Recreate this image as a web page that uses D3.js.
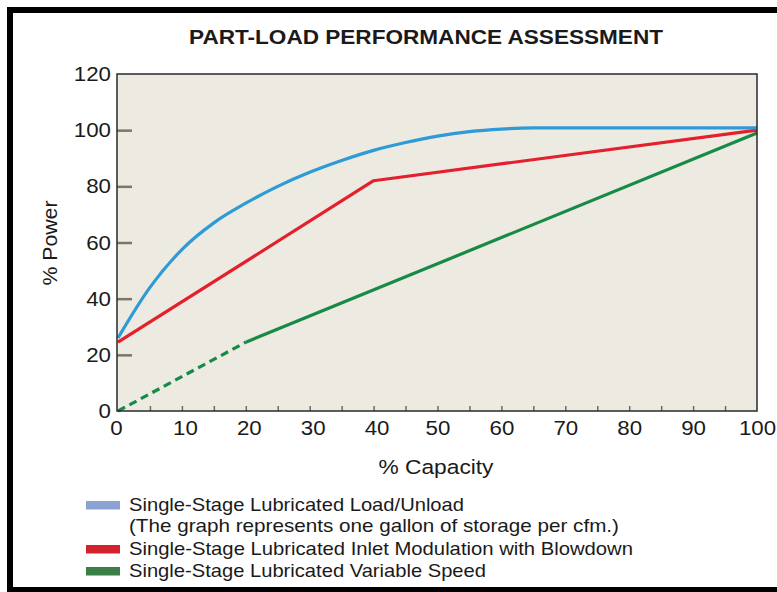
<!DOCTYPE html>
<html>
<head>
<meta charset="utf-8">
<script src="https://cdn.jsdelivr.net/npm/d3@7"></script>
<style>
  body { margin: 0; background: #fff; }
  svg { display: block; font-family: "Liberation Sans", Arial, Helvetica, sans-serif; }
</style>
</head>
<body>
<svg id="chart" width="777" height="592"></svg>
<script>
// data (% capacity, % power)
const loadUnload = [[0, 26], [5, 44], [10, 57.5], [15, 67], [20, 74], [25, 80], [30, 85], [35, 89.2],
    [40, 92.8], [45, 95.6], [50, 97.9], [55, 99.5], [60, 100.4], [65, 100.8], [70, 100.8], [100, 100.8]];
const inletModulation = [[0, 24.5], [40, 82], [100, 100]];
const variableSpeed = [[20, 24.5], [100, 99]];
const variableSpeedDashed = [[0, 0], [20, 24.5]];

const xTicks = [0, 10, 20, 30, 40, 50, 60, 70, 80, 90, 100];
const xMinorTicks = [5, 10, 15, 20, 25, 30, 35, 40, 45, 50, 55, 60, 65, 70, 75, 80, 85, 90, 95];
const yTicks = [0, 20, 40, 60, 80, 100, 120];
const yTickMarks = [20, 40, 60, 80, 100];

const legendItems = [
    { label: "Single-Stage Lubricated Load/Unload", color: "#8ba2d3", width: 335 },
    { label: "(The graph represents one gallon of storage per cfm.)", color: null, width: 490 },
    { label: "Single-Stage Lubricated Inlet Modulation with Blowdown", color: "#d3222e", width: 504 },
    { label: "Single-Stage Lubricated Variable Speed", color: "#3a7f45", width: 357 },
];

const translate = (x, y) => `translate(${x}, ${y})`;
const textColor = "#1a1a1a";
const digitWidth = 12.4; // the source type is a little wider than Arial

const svg = d3.select("#chart");
const plot = { left: 117, right: 757, top: 74, bottom: 411 };

const x = d3.scaleLinear().domain([0, 100]).range([118, plot.right]);
const y = d3.scaleLinear().domain([0, 120]).range([plot.bottom, plot.top]);

// outer frame
svg.append("rect")
    .attr("x", 10).attr("y", 10)
    .attr("width", 820).attr("height", 580)
    .attr("fill", "none")
    .attr("stroke", "#000")
    .attr("stroke-width", 6);

// title
svg.append("text")
    .attr("x", 426).attr("y", 44)
    .attr("text-anchor", "middle")
    .attr("font-size", 21)
    .attr("font-weight", "bold")
    .attr("fill", textColor)
    .attr("textLength", 474)
    .attr("lengthAdjust", "spacingAndGlyphs")
    .text("PART-LOAD PERFORMANCE ASSESSMENT");

// plot background
svg.append("rect")
    .attr("x", plot.left).attr("y", plot.top)
    .attr("width", plot.right - plot.left)
    .attr("height", plot.bottom - plot.top)
    .attr("fill", "#edeae2");

// y tick marks (inside, pointing right)
svg.append("g")
    .attr("transform", translate(plot.left, 0))
    .call(d3.axisRight(y).tickValues(yTickMarks).tickSize(15).tickFormat(""))
    .call(g => g.select(".domain").remove())
    .call(g => g.selectAll("line").attr("stroke", "#7f7566").attr("stroke-width", 2.5));

// x minor tick marks (inside, pointing up)
svg.append("g")
    .attr("transform", translate(0, plot.bottom))
    .call(d3.axisBottom(x).tickValues(xMinorTicks).tickSize(-5).tickFormat(""))
    .call(g => g.select(".domain").remove())
    .call(g => g.selectAll("line").attr("stroke", "#6f6a62").attr("stroke-width", 1.5));

// y labels
svg.append("g")
    .attr("transform", translate(plot.left, 0))
    .call(d3.axisLeft(y).tickValues(yTicks).tickSize(0).tickPadding(6))
    .call(g => g.select(".domain").remove())
    .call(g => g.selectAll("text")
        .attr("font-family", null)
        .attr("font-size", 20.5)
        .attr("fill", textColor)
        .attr("textLength", d => String(d).length * digitWidth)
        .attr("lengthAdjust", "spacingAndGlyphs"));

// x labels
svg.append("g")
    .attr("transform", translate(0, plot.bottom))
    .call(d3.axisBottom(x).tickValues(xTicks).tickSize(0).tickPadding(9))
    .call(g => g.select(".domain").remove())
    .call(g => g.selectAll("text")
        .attr("font-family", null)
        .attr("font-size", 20.5)
        .attr("fill", textColor)
        .attr("x", d => d === 0 ? -2 : (d < 50 ? 3 : 0))
        .attr("textLength", d => String(d).length * digitWidth)
        .attr("lengthAdjust", "spacingAndGlyphs"));

// axis titles
svg.append("text")
    .attr("x", 436).attr("y", 474)
    .attr("text-anchor", "middle")
    .attr("font-size", 20.5)
    .attr("fill", textColor)
    .attr("textLength", 115)
    .attr("lengthAdjust", "spacingAndGlyphs")
    .text("% Capacity");

svg.append("text")
    .attr("transform", translate(57, 243) + " rotate(-90)")
    .attr("text-anchor", "middle")
    .attr("font-size", 20.5)
    .attr("fill", textColor)
    .attr("textLength", 85)
    .attr("lengthAdjust", "spacingAndGlyphs")
    .text("% Power");

// lines
const line = d3.line().x(d => x(d[0])).y(d => y(d[1]));
const curve = d3.line().x(d => x(d[0])).y(d => y(d[1])).curve(d3.curveMonotoneX);

const lines = svg.append("g").attr("fill", "none").attr("stroke-width", 3.2).attr("stroke-linejoin", "round");

lines.append("path")
    .datum(variableSpeedDashed)
    .attr("d", line)
    .attr("stroke", "#168a46")
    .attr("stroke-dasharray", "8,5");

lines.append("path")
    .datum(variableSpeed)
    .attr("d", line)
    .attr("stroke", "#168a46");

lines.append("path")
    .datum(inletModulation)
    .attr("d", line)
    .attr("stroke", "#e3202c");

lines.append("path")
    .datum(loadUnload)
    .attr("d", curve)
    .attr("stroke", "#2e9bd6");

// plot border
svg.append("rect")
    .attr("x", plot.left).attr("y", plot.top)
    .attr("width", plot.right - plot.left)
    .attr("height", plot.bottom - plot.top)
    .attr("fill", "none")
    .attr("stroke", "#2a2a2a")
    .attr("stroke-width", 1.5);

// legend
const legendY = [505, 526, 549, 571];
const legend = svg.append("g");
legendItems.forEach((item, i) => {
    if (item.color) {
        legend.append("rect")
            .attr("x", 86).attr("y", legendY[i] - 4)
            .attr("width", 34).attr("height", 8.5)
            .attr("fill", item.color);
    }
    legend.append("text")
        .attr("x", 129).attr("y", legendY[i])
        .attr("dy", "0.35em")
        .attr("font-size", 18.5)
        .attr("fill", textColor)
        .attr("textLength", item.width)
        .attr("lengthAdjust", "spacingAndGlyphs")
        .text(item.label);
});
</script>
</body>
</html>
